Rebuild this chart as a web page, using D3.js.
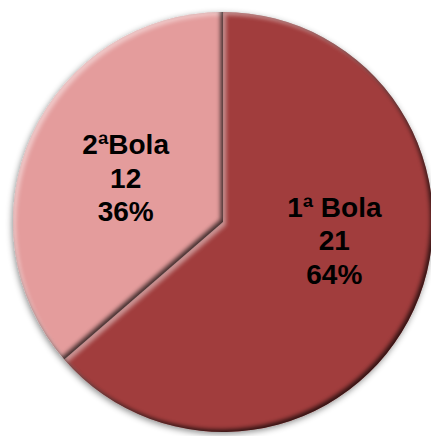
<!DOCTYPE html>
<html>
<head>
<meta charset="utf-8">
<script src="https://cdn.jsdelivr.net/npm/d3@7"></script>
<style>
  html, body { margin: 0; padding: 0; background: #fff; }
  svg { display: block; }
  .lbl { font-family: "Liberation Sans", Arial, sans-serif; font-weight: bold; font-size: 28px; fill: #000; }
</style>
</head>
<body>
<svg id="chart" width="431" height="436"></svg>
<script>
// Serve counts: first ball vs second ball
const categories = ["1ª Bola", "2ªBola"];
const values = [21, 12];
const sliceColors = ["#A13D3D", "#E49C9C"];

// Layout
const W = 431, H = 436;
const cx = 223, cy = 222, R = 210;
const labelRadius = 107;
const labelNudge = [[14, -26], [0, 0]];
const lineGap = 33.5;

const svg = d3.select("#chart");
const defs = svg.append("defs");

const shadow = defs.append("filter").attr("id", "drop")
  .attr("x", "-10%").attr("y", "-10%").attr("width", "120%").attr("height", "120%");
shadow.append("feDropShadow").attr("dx", -1).attr("dy", 2)
  .attr("stdDeviation", 3).attr("flood-color", "#000").attr("flood-opacity", 0.45);

const soft = defs.append("filter").attr("id", "soft")
  .attr("x", "-5%").attr("y", "-5%").attr("width", "110%").attr("height", "110%");
soft.append("feGaussianBlur").attr("stdDeviation", 2.2);

const total = d3.sum(values);
const pie = d3.pie().sort(null).value(d => d.value);
const data = pie(categories.map((c, i) => ({ name: c, value: values[i], color: sliceColors[i] })));

const arc = d3.arc().innerRadius(0).outerRadius(R);
const labelArc = d3.arc().innerRadius(labelRadius).outerRadius(labelRadius);

const g = svg.append("g").attr("transform", `translate(${cx},${cy})`);
const pieG = g.append("g").attr("filter", "url(#drop)");

const outside = "M-2000,-2000H2000V2000H-2000Z";

data.forEach((d, i) => {
  const path = arc(d);
  defs.append("clipPath").attr("id", "clip" + i).append("path")
    .attr("d", path).attr("transform", `translate(${cx},${cy})`);
  pieG.append("path").attr("d", path).attr("fill", d.data.color);
  const inner = svg.append("g").attr("clip-path", `url(#clip${i})`);
  // bevel: highlight on edges facing up-left, shade on edges facing down-right
  const bev = inner.append("g").attr("transform", `translate(${cx},${cy})`);
  bev.append("path").attr("d", outside + path).attr("fill-rule", "evenodd")
    .attr("fill", "#fff").attr("opacity", 0.45)
    .attr("transform", "translate(3,3)").attr("filter", "url(#soft)");
  bev.append("path").attr("d", outside + path).attr("fill-rule", "evenodd")
    .attr("fill", "#000").attr("opacity", 0.7)
    .attr("transform", "translate(-2.5,-2.5)").attr("filter", "url(#soft)");
});

// Labels: name, count, share
const pct = d3.format(".0%");
data.forEach((d, i) => {
  const [x, y] = labelArc.centroid(d);
  const lx = cx + x + labelNudge[i][0], ly = cy + y + labelNudge[i][1];
  const t = svg.append("text").attr("class", "lbl").attr("text-anchor", "middle")
    .attr("x", lx).attr("y", ly + 10 - lineGap);
  [d.data.name, String(d.data.value), pct(d.data.value / total)].forEach((line, k) => {
    t.append("tspan").attr("x", lx).attr("dy", k === 0 ? 0 : lineGap).text(line);
  });
});
</script>
</body>
</html>
